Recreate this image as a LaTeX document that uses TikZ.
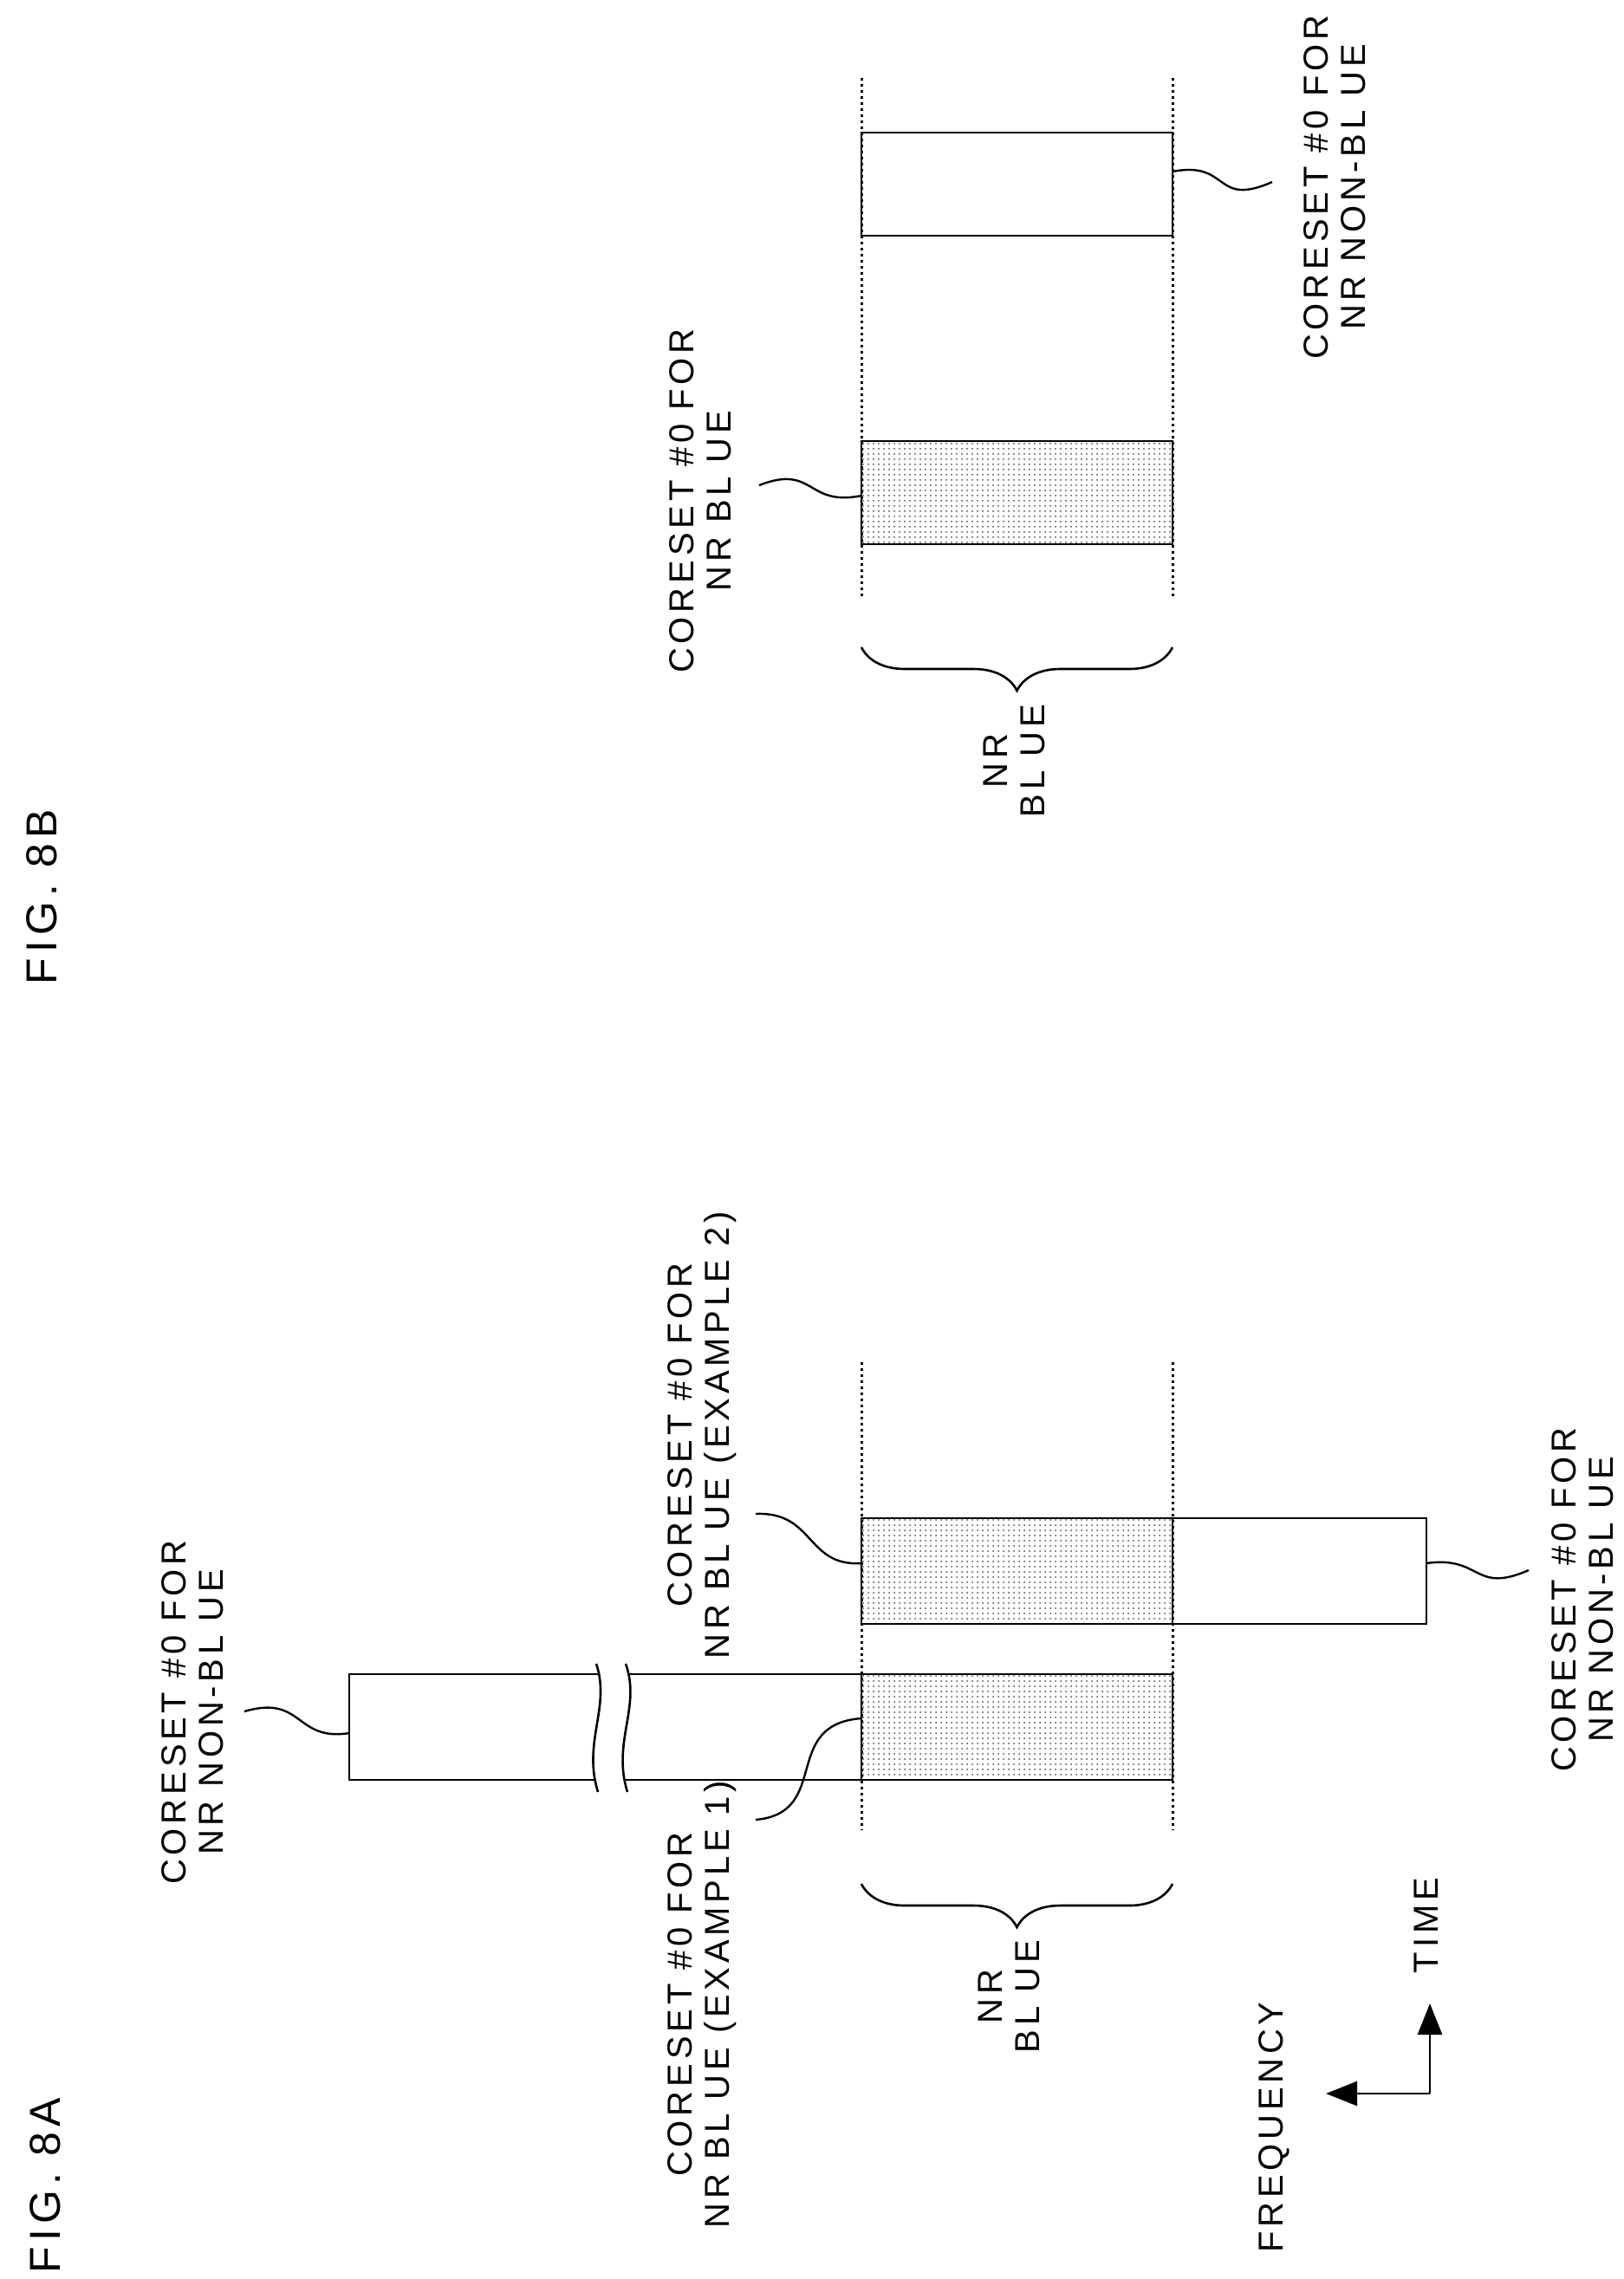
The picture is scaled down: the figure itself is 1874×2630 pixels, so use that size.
\documentclass[tikz,border=0pt]{standalone}
\usepackage{fontspec}
\setmainfont{Liberation Sans}[LetterSpace=12]
\usetikzlibrary{patterns,decorations.pathreplacing,arrows.meta}
\begin{document}
\begin{tikzpicture}[x=0.5pt,y=-0.5pt,line width=1.3pt,
  lbl/.style={rotate=90,align=center,font=\fontsize{20}{21.5}\selectfont,inner sep=0pt},
  figl/.style={rotate=90,font=\fontsize{25}{30}\selectfont,inner sep=0pt},
  shade/.style={draw,pattern=dots,pattern color=black!70},
  vdot/.style={dotted,line width=1.5pt},
  lead/.style={line width=1.2pt},
  brc/.style={decorate,decoration={brace,mirror,amplitude=25pt}}]
\useasboundingbox (0,0) rectangle (1874,2630);
% ---------- FIG 8B ----------
\node[figl] (f8b) at (48,1035) {FIG. 8B};
\draw[vdot] (994,90) -- (994,690);
\draw[vdot] (1353,90) -- (1353,690);
\draw (994,153) rectangle (1353,272);
\draw[shade] (994,509) rectangle (1353,628);
\draw[brc] (994,747) -- (1353,747);
\node[lbl] (b-nrbl) at (1170,878) {NR\\BL UE};
\node[lbl] (b-non) at (1540,216) {CORESET \#0 FOR\\NR NON-BL UE};
\node[lbl] (b-bl) at (808,578) {CORESET \#0 FOR\\NR BL UE};
\draw[lead] (1353,198) .. controls (1420,185) and (1400,240) .. (1468,210);
\draw[lead] (994,572) .. controls (930,585) and (940,535) .. (876,560);
% ---------- FIG 8A ----------
\node[figl] (f8a) at (52,2522) {FIG. 8A};
\draw[vdot] (994,1572) -- (994,2112);
\draw[vdot] (1353,1572) -- (1353,2112);
\draw[shade] (994,1752) rectangle (1353,1874);
\draw (1353,1752) rectangle (1646,1874);
\draw (403,1932) rectangle (994,2054);
\draw[shade] (994,1932) rectangle (1353,2054);
% break
\fill[white] (688,1920) .. controls (705,1970) and (672,2010) .. (690,2068) -- (724,2068) .. controls (706,2010) and (740,1970) .. (722,1920) -- cycle;
\draw (688,1920) .. controls (705,1970) and (672,2010) .. (690,2068);
\draw (722,1920) .. controls (740,1970) and (706,2010) .. (724,2068);
\draw[brc] (994,2174) -- (1353,2174);
\node[lbl] (a-nrbl) at (1164,2304) {NR\\BL UE};
\node[lbl] (a-non1) at (222,1976) {CORESET \#0 FOR\\NR NON-BL UE};
\node[lbl] (a-ex1) at (810,2313) {CORESET \#0 FOR\\NR BL UE (EXAMPLE 1)};
\node[lbl] (a-ex2) at (810,1656) {CORESET \#0 FOR\\NR BL UE (EXAMPLE 2)};
\node[lbl] (a-non2) at (1826,1846) {CORESET \#0 FOR\\NR NON-BL UE};
\draw[lead] (403,2000) .. controls (340,2010) and (350,1955) .. (282,1975);
\draw[lead] (994,1983) .. controls (900,1990) and (960,2092) .. (872,2100);
\draw[lead] (994,1804) .. controls (930,1808) and (940,1744) .. (872,1747);
\draw[lead] (1646,1804) .. controls (1710,1795) and (1700,1840) .. (1764,1812);
% axes
\coordinate (ax) at (1650,2416);
\draw[-{Triangle[length=18pt,width=14pt]}] (ax) -- (1530,2416);
\draw[-{Triangle[length=18pt,width=14pt]}] (ax) -- (1650,2312);
\node[lbl] (freq) at (1470,2455) {FREQUENCY};
\node[lbl] (time) at (1646,2222) {TIME};
\end{tikzpicture}
\end{document}
